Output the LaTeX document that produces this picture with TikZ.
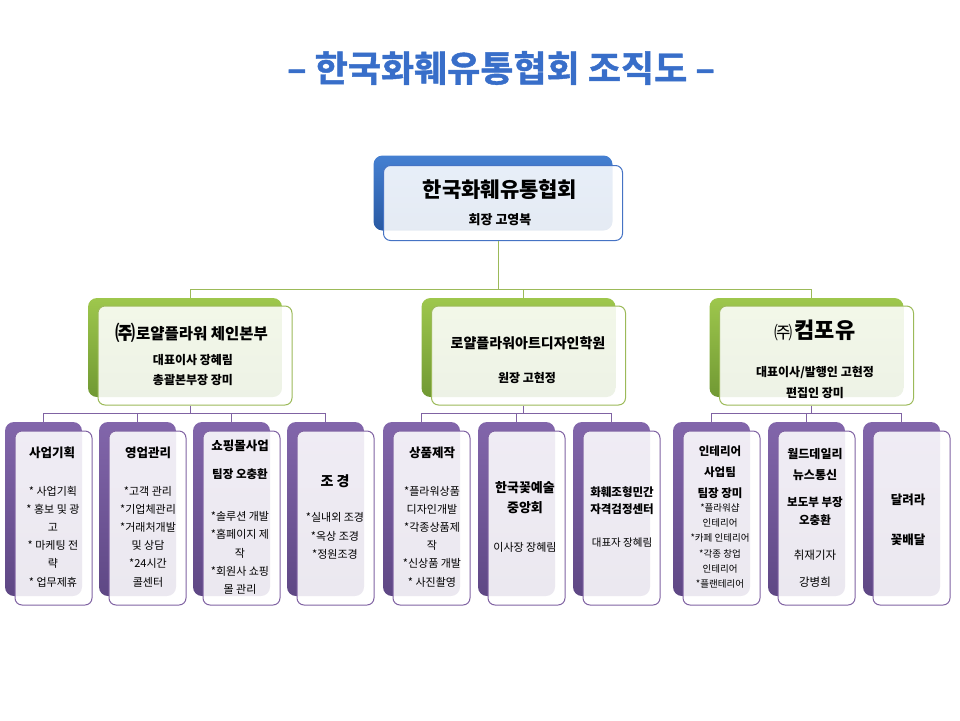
\documentclass[tikz,border=0pt]{standalone}
\usepackage{fontspec}
\setmainfont{Noto Sans CJK KR}
\newfontfamily\titlefont[UprightFont={* Bold},FakeBold=1.2]{Noto Sans CJK KR}
\usepackage{tikz}
\definecolor{titleblue}{rgb}{0.22,0.43,0.79}
\definecolor{hqtop}{rgb}{0.27,0.50,0.82}
\definecolor{hqbot}{rgb}{0.16,0.35,0.64}
\definecolor{hqline}{rgb}{0.27,0.45,0.77}
\definecolor{grtop}{rgb}{0.62,0.78,0.30}
\definecolor{grbot}{rgb}{0.44,0.60,0.20}
\definecolor{grline}{rgb}{0.61,0.73,0.35}
\definecolor{pptop}{rgb}{0.51,0.40,0.67}
\definecolor{ppbot}{rgb}{0.37,0.28,0.52}
\definecolor{ppline}{rgb}{0.50,0.39,0.64}
\newcommand{\ju}{\raisebox{-1.2pt}{\scalebox{1.3}{㈜}}}

\tikzset{
  back/.style={rounded corners=9pt,inner sep=0pt},
  front/.style={rounded corners=7pt,inner sep=0pt,line width=1pt,
    fill=white,fill opacity=0.88,draw opacity=1},
  hqback/.style={back,top color=hqtop,bottom color=hqbot,
    minimum width=239pt,minimum height=75pt},
  hqfront/.style={front,draw=hqline,minimum width=239pt,minimum height=75pt},
  gback/.style={back,top color=grtop,bottom color=grbot,
    minimum width=194pt,minimum height=99pt},
  gfront/.style={front,draw=grline,minimum width=194pt,minimum height=99pt},
  pback/.style={back,top color=pptop,bottom color=ppbot,
    minimum width=77pt,minimum height=174pt},
  pfront/.style={front,draw=ppline,minimum width=77pt,minimum height=174pt},
  gline/.style={grline,line width=1pt},
  pline/.style={ppline,line width=1pt},
  hd/.style={font=\bfseries\fontsize{12.5}{20}\selectfont,align=center,inner sep=0pt},
  it/.style={font=\fontsize{11}{18.2}\selectfont,align=center,inner sep=0pt}
}

\begin{document}
\begin{tikzpicture}[x=1pt,y=-1pt]
  \useasboundingbox (0,0) rectangle (960,720);

  % title
  \node[font=\titlefont\fontsize{36}{40}\selectfont,text=titleblue] (title) at (501,68)
    {– 한국화훼유통협회 조직도 –};

  % head office
  \node[hqback] (hqb) at (493,193) {};
  \node[hqfront,shift={(10,10)}] (hqf) at (hqb) {};
  \coordinate (hq) at (498,198);
  \node[font=\bfseries\fontsize{21}{24}\selectfont] (hqname) at (500,190) {한국화훼유통협회};
  \node[font=\bfseries\fontsize{13}{16}\selectfont] (hqhead) at (500,220) {회장 고영복};

  % second tier
  \foreach \u/\x in {chain/185, academy/518.5, compoyou/806.5}{
    \node[gback] (\u b) at (\x,347.5) {};
    \node[gfront,shift={(10,8)}] (\u f) at (\u b) {};
    \coordinate (\u) at (\x+5,352);}

  \node[font=\bfseries\fontsize{15.5}{18}\selectfont] (chainname) at (192,333)
    {\ju 로얄플라워 체인본부};
  \node[font=\bfseries\fontsize{12}{20}\selectfont,align=center] (chainhead) at (193,370)
    {대표이사 장혜림\\총괄본부장 장미};
  \node[font=\bfseries\fontsize{14}{18}\selectfont] (academyname) at (528,343)
    {로얄플라워아트디자인학원};
  \node[font=\bfseries\fontsize{12}{16}\selectfont] (academyhead) at (527,378) {원장 고현정};
  \node (compoyouname) at (815,330)
    {{\fontsize{14}{16}\selectfont\ju}\,{\bfseries\fontsize{22}{24}\selectfont 컴포유}};
  \node[font=\bfseries\fontsize{12}{21}\selectfont,align=center] (compoyouhead) at (815,382.5)
    {대표이사/발행인 고현정\\편집인 장미};

  % third tier
  \foreach \i/\x in {1/43.5, 2/137.5, 3/231.5, 4/325.5, 5/421.5,
                     6/516.5, 7/611.5, 8/711.5, 9/806.5, 10/901.5}{
    \node[pback] (b\i) at (\x,509) {};
    \node[pfront,shift={(10,9)}] (f\i) at (b\i) {};}

  % connectors
  \coordinate (gbus) at (0,289);
  \coordinate (pbus) at (0,413);
  \draw[gline] (hq |- hqf.south) -- (hq |- gbus);
  \draw[gline] (chain |- chainb.north) |- (compoyou |- gbus) -- (compoyou |- compoyoub.north);
  \draw[gline] (academy |- gbus) -- (academy |- academyb.north);
  \foreach \u in {chain,academy,compoyou}{
    \draw[pline] (\u |- \u f.south) -- (\u |- pbus);}
  \foreach \a/\c in {1/4, 5/7, 8/10}{
    \draw[pline] (b\a.north) |- (b\c |- pbus) -- (b\c.north);}
  \foreach \i in {2,3,6,9}{
    \draw[pline] (b\i.north) -- (b\i |- pbus);}

  % box texts
  \node[hd] (t1) at (52,453) {사업기획};
  \node[it] (d1) at (53,536.5) {* 사업기획\\* 홍보 및 광\\고\\* 마케팅 전\\략\\* 업무제휴};
  \node[hd] (t2) at (148,453) {영업관리};
  \node[it] (d2) at (148,536.5) {*고객 관리\\*기업체관리\\*거래처개발\\및 상담\\*24시간\\콜센터};
  \node[hd] (t3) at (240,446) {쇼핑몰사업};
  \node[hd,font=\bfseries\fontsize{11.5}{14}\selectfont] (m3) at (240,474) {팀장 오충환};
  \node[it] (d3) at (240,553) {*솔루션 개발\\*홈페이지 제\\작\\*회원사 쇼핑\\몰 관리};
  \node[hd,font=\bfseries\fontsize{14}{18}\selectfont] (t4) at (335,481) {조 경};
  \node[it] (d4) at (335,536) {*실내외 조경\\*옥상 조경\\*정원조경};
  \node[hd] (t5) at (432,453) {상품제작};
  \node[it] (d5) at (432,536.5) {*플라워상품\\디자인개발\\*각종상품제\\작\\*신상품 개발\\* 사진촬영};
  \node[hd,font=\bfseries\fontsize{13}{20}\selectfont] (t6) at (525,498) {한국꽃예술\\중앙회};
  \node[it] (d6) at (525,547) {이사장 장혜림};
  \node[hd,font=\bfseries\fontsize{11.5}{17.5}\selectfont] (t7) at (622,500.5) {화훼조형민간\\자격검정센터};
  \node[it,font=\fontsize{10.5}{14}\selectfont] (d7) at (622,543) {대표자 장혜림};
  \node[hd,font=\bfseries\fontsize{11.5}{21}\selectfont] (t8) at (720,472) {인테리어\\사업팀\\팀장 장미};
  \node[it,font=\fontsize{9.5}{15.2}\selectfont] (d8) at (720,546)
    {*플라워샵\\인테리어\\*카페 인테리어\\*각종 창업\\인테리어\\*플랜테리어};
  \node[hd,font=\bfseries\fontsize{12}{21}\selectfont] (t9) at (815,464.5) {월드데일리\\뉴스통신};
  \node[hd,font=\bfseries\fontsize{11.5}{18}\selectfont] (m9) at (815,511) {보도부 부장\\오충환};
  \node[it,font=\fontsize{11.5}{27}\selectfont] (d9) at (815,568.5) {취재기자\\강병희};
  \node[hd,font=\bfseries\fontsize{12.5}{40}\selectfont] (t10) at (908,520) {달려라\\꽃배달};
\end{tikzpicture}
\end{document}
